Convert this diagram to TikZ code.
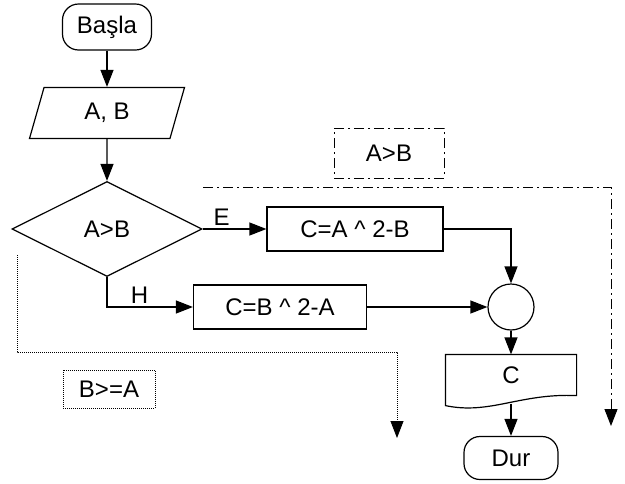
\documentclass[tikz,border=0pt]{standalone}
\usepackage{fontspec}
\setmainfont{Liberation Sans}
\usetikzlibrary{shapes.geometric,arrows.meta,calc}

\begin{document}
\begin{tikzpicture}[x=1pt,y=-1pt,
  font=\fontsize{24}{28}\selectfont,
  line width=1.2pt,
  flow/.style={-{Triangle[length=17pt,width=13pt]}},
  term/.style={draw,rounded corners=16pt,minimum height=46pt},
  proc/.style={draw,minimum height=44pt},
  io/.style={draw,trapezium,trapezium left angle=61,trapezium right angle=119,
    trapezium stretches body,minimum width=155pt,minimum height=51pt},
  dec/.style={draw,diamond,aspect=2,minimum width=190pt,minimum height=95pt,inner sep=0pt},
  dashdot/.style={line width=1pt,dash pattern=on 10pt off 4pt on 2pt off 4pt},
  dots/.style={line width=0.8pt,dash pattern=on 1pt off 1pt}]
  \useasboundingbox (0,0) rectangle (625,483);
  \node[term,minimum width=89pt] (start) at (107,27) {Başla};
  \node[io] (input) at (107,113) {A, B};
  \node[dec] (cmp) at (107,229) {A>B};
  \node[proc,minimum width=176pt] (yes) at (355,229) {C=A \textasciicircum{} 2-B};
  \node[proc,minimum width=173pt] (no) at (280,307) {C=B \textasciicircum{} 2-A};
  \node[draw,circle,minimum size=46pt,inner sep=0pt] (join) at (511,307) {};
  \node[minimum width=130pt,minimum height=40pt] (out) at (511,375) {C};
  \node[term,minimum width=94pt,minimum height=43pt] (stop) at (511,458) {Dur};
  \node[draw,dashdot,minimum width=110pt,minimum height=50pt] (ab) at (389,153) {A>B};
  \node[draw,dots,minimum width=92pt,minimum height=38pt] (ba) at (109,389) {B>=A};
  \draw (out.north west) -- (out.north east) -- (out.south east)
    .. controls (520,393) and (490,415) .. ($(out.south west)+(0,10)$) -- cycle;
  \draw[flow] (start) -- (input);
  \draw[flow] (input) -- (cmp);
  \draw[flow] (cmp.east) -- node[above,pos=0.3] {E} (yes.west);
  \draw[flow] (cmp.south) |- node[above,pos=0.69] {H} (no.west);
  \draw[flow] (yes.east) -| (join.north);
  \draw[flow] (no.east) -- (join.west);
  \draw[flow] (join) -- (out);
  \draw[flow] ($(out.south)+(0,8)$) -- (stop);
  \coordinate (abs) at (203,187);
  \coordinate (abe) at (611,426);
  \draw[flow,dashdot] (abs) -| (abe);
  \coordinate (bas) at (17,255);
  \coordinate (bac) at (397,352);
  \coordinate (bae) at (397,438);
  \draw[flow,dots] (bas) |- (bac) -- (bae);
\end{tikzpicture}
\end{document}
